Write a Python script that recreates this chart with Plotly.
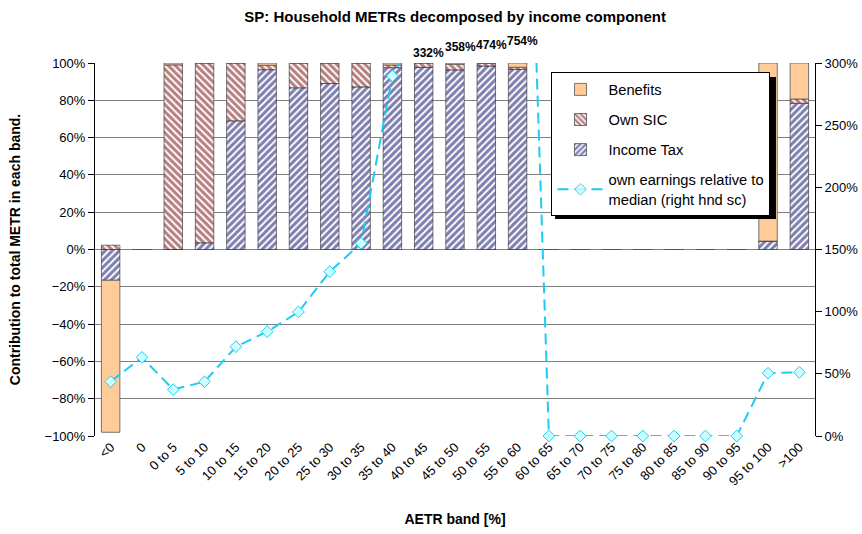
import plotly.graph_objects as go

# AETR bands on the category axis
bands = ["<0", "0", "0 to 5", "5 to 10", "10 to 15", "15 to 20", "20 to 25",
         "25 to 30", "30 to 35", "35 to 40", "40 to 45", "45 to 50", "50 to 55",
         "55 to 60", "60 to 65", "65 to 70", "70 to 75", "75 to 80", "80 to 85",
         "85 to 90", "90 to 95", "95 to 100", ">100"]

# Share of total METR in each band (%), by income component
income_tax = [-16.5, 0, 0, 3.6, 69.0, 96.4, 86.7, 89.0, 87.2, 97.5, 97.7, 96.3,
              98.4, 96.6, 0, 0, 0, 0, 0, 0, 0, 4.5, 78.4]
own_sic = [2.3, 0, 99.0, 96.4, 31.0, 2.4, 13.3, 11.0, 12.8, 1.4, 2.3, 3.0,
           1.4, 1.1, 0, 0, 0, 0, 0, 0, 0, 0, 2.3]
benefits = [-81.5, 0, 1.0, 0, 0, 1.2, 0, 0, 0, 1.1, 0, 0.7, 0.2, 2.3,
            0, 0, 0, 0, 0, 0, 0, 95.5, 19.3]

# Own earnings relative to the median (%), right-hand scale
earnings_rel = [43.7, 63.3, 37.3, 43.7, 71.8, 83.9, 99.8, 132.2, 155.0, 289.6,
                332, 358, 474, 754, 0, 0, 0, 0, 0, 0, 0, 50.5, 51.2]

RIGHT_MAX = 300
FONT = "Arial, Liberation Sans, sans-serif"
CYAN = "#1ECBF5"
# vertical lift (px above the plot top) of the labels for off-scale points
LABEL_LIFT = [10, 16, 18, 22]

fig = go.Figure()

fig.add_trace(go.Bar(
    x=bands, y=income_tax, name="Income Tax", legendrank=3, legendgroup="it",
    marker=dict(color="white", line=dict(color="#222222", width=0.6),
                pattern=dict(shape="/", fgcolor="#000060", bgcolor="white",
                             size=5, solidity=0.6)),
))
fig.add_trace(go.Bar(
    x=bands, y=own_sic, name="Own SIC", legendrank=2, legendgroup="sic",
    marker=dict(color="white", line=dict(color="#222222", width=0.6),
                pattern=dict(shape="\\", fgcolor="#700000", bgcolor="white",
                             size=5, solidity=0.6)),
))
fig.add_trace(go.Bar(
    x=bands, y=benefits, name="Benefits", legendrank=1, legendgroup="ben",
    marker=dict(color="#FFCC99", line=dict(color="#555555", width=0.8)),
))

# points above the right-hand scale are not drawn as markers
marker_opacity = [1 if v <= RIGHT_MAX else 0 for v in earnings_rel]
fig.add_trace(go.Scatter(
    x=bands, y=earnings_rel, yaxis="y2", mode="lines+markers",
    name="own earnings relative to<br>median (right hnd sc)", legendrank=4,
    legendgroup="earn",
    line=dict(color=CYAN, width=2, dash="11px,6px"),
    marker=dict(symbol="diamond", size=9, color="#CCFFFF", opacity=marker_opacity,
                line=dict(color=CYAN, width=1)),
    cliponaxis=False,
))

# value labels for the points that run off the top of the scale
off_scale = [(b, v) for b, v in zip(bands, earnings_rel) if v > RIGHT_MAX]
for (b, v), lift in zip(off_scale, LABEL_LIFT):
    fig.add_annotation(
        x=b, xref="x", y=1.0, yref="paper", yanchor="middle", yshift=lift,
        text=f"{v:.0f}%", showarrow=False, xshift=5,
        font=dict(family=FONT, size=12, color="black", weight="bold"),
    )

# drop shadow behind the legend box
fig.add_shape(type="rect", xref="paper", yref="paper",
              x0=0.639, x1=0.9458, y0=0.5818, y1=0.9625,
              fillcolor="black", line=dict(width=0), layer="above")

fig.update_layout(
    width=862, height=534,
    margin=dict(l=95, r=47, t=63, b=98, autoexpand=False),
    paper_bgcolor="white", plot_bgcolor="white",
    barmode="relative", bargap=0.41,
    font=dict(family=FONT, size=13, color="black"),
    title=dict(text="SP: Household METRs decomposed by income component",
               x=0.528, xanchor="center", y=0.968, yanchor="middle",
               font=dict(family=FONT, size=15, color="black", weight="bold")),
    xaxis=dict(type="category", range=[-0.5, 22.5], tickangle=-45,
               showgrid=False, ticks="", showline=False, automargin=False,
               tickfont=dict(family=FONT, size=13),
               title=dict(text="AETR band [%]", standoff=26,
                          font=dict(family=FONT, size=14, weight="bold"))),
    # horizontal axis line through 0 % with ticks between the bands
    xaxis3=dict(overlaying="x", anchor="free", position=0.5, type="linear",
                range=[-0.5, 22.5], tickvals=[i + 0.5 for i in range(22)],
                showticklabels=False, ticks="outside", ticklen=5, tickcolor="black",
                showline=True, linecolor="black", linewidth=1, showgrid=False,
                automargin=False),
    yaxis=dict(range=[-100, 100], dtick=20, ticksuffix="%",
               showgrid=True, gridcolor="#808080", gridwidth=1,
               zeroline=False, showline=True, linecolor="black", linewidth=1,
               ticks="outside", ticklen=6, tickcolor="black", automargin=False,
               tickfont=dict(family=FONT, size=13),
               title=dict(text="Contribution to total METR in each band.", standoff=20,
                          font=dict(family=FONT, size=14, weight="bold"))),
    yaxis2=dict(range=[0, RIGHT_MAX], dtick=50, ticksuffix="%", overlaying="y",
                side="right", showgrid=False, zeroline=False,
                showline=True, linecolor="black", linewidth=1, automargin=False,
                ticks="outside", ticklen=6, tickcolor="black",
                tickfont=dict(family=FONT, size=13)),
    legend=dict(x=0.634, xanchor="left", y=0.975, yanchor="top",
                bgcolor="white", bordercolor="black", borderwidth=1,
                font=dict(family=FONT, size=14.7, color="black"),
                itemwidth=46, traceorder="grouped", tracegroupgap=8),
    showlegend=True,
)

fig.write_html("out.html")
